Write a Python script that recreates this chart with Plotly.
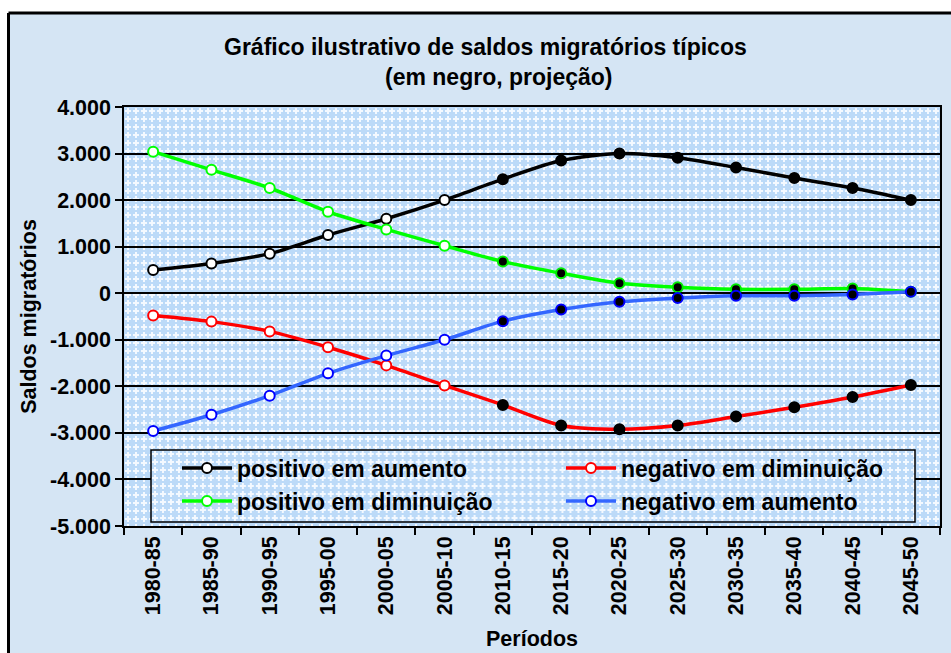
import base64
import plotly.graph_objects as go

# ---------------- data ----------------
PERIODS = ["1980-85", "1985-90", "1990-95", "1995-00", "2000-05", "2005-10", "2010-15",
           "2015-20", "2020-25", "2025-30", "2030-35", "2035-40", "2040-45", "2045-50"]
# True = projection (drawn as black-filled markers)
PROJECTION = [False] * 6 + [True] * 8

POS_AUMENTO = [500, 640, 850, 1250, 1600, 2000, 2450, 2850, 3000, 2910, 2700, 2475, 2260, 2000]
NEG_DIMINUICAO = [-480, -610, -820, -1160, -1550, -1980, -2400, -2840, -2920, -2840, -2650, -2450, -2230, -1970]
POS_DIMINUICAO = [3040, 2650, 2260, 1750, 1370, 1020, 680, 430, 215, 130, 85, 85, 100, 30]
NEG_AUMENTO = [-2960, -2610, -2200, -1720, -1340, -1000, -600, -350, -185, -105, -55, -55, -25, 30]

SERIES_NAMES = ["positivo em aumento", "negativo em diminuição",
                "positivo em diminuição", "negativo em aumento"]

Y_TICKS = [4000, 3000, 2000, 1000, 0, -1000, -2000, -3000, -4000, -5000]
Y_TICK_LABELS = ["4.000", "3.000", "2.000", "1.000", "0", "-1.000", "-2.000",
                 "-3.000", "-4.000", "-5.000"]

TITLE_LINE1 = "Gráfico ilustrativo de saldos migratórios típicos"
TITLE_LINE2 = "(em negro, projeção)"
X_TITLE = "Períodos"
Y_TITLE = "Saldos migratórios"

# ---------------- styling ----------------
FONT = "Liberation Sans, Arial, sans-serif"
W, H = 951, 653
ML, MR, MT, MB = 124, 11, 107, 127
PW, PH = W - ML - MR, H - MT - MB


def px_x(p):
    return (p - ML) / PW


def px_y(p):
    return (H - MB - p) / PH


def pattern_uri(w, h):
    svg = (f"<svg xmlns='http://www.w3.org/2000/svg' width='{w}' height='{h}'>"
           "<defs><pattern id='p' width='8' height='8' patternUnits='userSpaceOnUse'>"
           "<rect width='8' height='8' fill='#bcdaf8'/>"
           "<rect x='3' y='1' width='2' height='6' fill='#f4f9ff'/>"
           "<rect x='1' y='3' width='6' height='2' fill='#f4f9ff'/>"
           "</pattern></defs>"
           f"<rect width='{w}' height='{h}' fill='url(#p)'/></svg>")
    return "data:image/svg+xml;base64," + base64.b64encode(svg.encode()).decode()


styles = [
    dict(line="#000000", hollow_edge="#000000", fill="#000000", fill_edge="#000000"),
    dict(line="#ff0000", hollow_edge="#ff0000", fill="#000000", fill_edge="#000000"),
    dict(line="#00ff00", hollow_edge="#00ff00", fill="#000000", fill_edge="#00ee00"),
    dict(line="#3366ff", hollow_edge="#0000ff", fill="#000000", fill_edge="#0000ff"),
]
series_values = [POS_AUMENTO, NEG_DIMINUICAO, POS_DIMINUICAO, NEG_AUMENTO]
legend_ids = ["legend", "legend2", "legend3", "legend4"]

fig = go.Figure()
for name, vals, st, lg in zip(SERIES_NAMES, series_values, styles, legend_ids):
    fills = [st["fill"] if p else "#ffffff" for p in PROJECTION]
    edges = [st["fill_edge"] if p else st["hollow_edge"] for p in PROJECTION]
    fig.add_trace(go.Scatter(
        x=PERIODS, y=vals, name=name, mode="lines+markers",
        line=dict(color=st["line"], width=3.5, shape="spline", smoothing=0.8),
        marker=dict(size=10, color=fills, line=dict(color=edges, width=2)),
        legend=lg, cliponaxis=False,
    ))

leg_font = dict(family=FONT, size=23, color="black", weight="bold")
col_x = [px_x(177), px_x(561)]
row_y = [px_y(468), px_y(501)]
positions = [(col_x[0], row_y[0]), (col_x[1], row_y[0]), (col_x[0], row_y[1]), (col_x[1], row_y[1])]
legend_cfg = {}
for lg, (lx, ly) in zip(legend_ids, positions):
    legend_cfg[lg] = dict(x=lx, y=ly, xanchor="left", yanchor="middle",
                          bgcolor="rgba(0,0,0,0)", borderwidth=0, font=leg_font,
                          itemwidth=50)

tick_font = dict(family=FONT, size=21.5, color="black", weight="bold")
axis_title_font = dict(family=FONT, size=21.5, color="black", weight="bold")
title_font = dict(family=FONT, size=23, color="black", weight="bold")

fig.update_layout(
    width=W, height=H, autosize=False,
    margin=dict(l=ML, r=MR, t=MT, b=MB),
    paper_bgcolor="#d5e5f4",
    plot_bgcolor="#cde3f9",
    font=dict(family=FONT, color="black"),
    showlegend=True,
    **legend_cfg,
    xaxis=dict(
        type="category", range=[-0.5, len(PERIODS) - 0.5], automargin=False,
        tickangle=-90, tickson="boundaries", ticks="outside", ticklen=7,
        tickwidth=1.5, tickcolor="black",
        showline=True, linecolor="black", linewidth=1.5, mirror=True,
        showgrid=False, zeroline=False,
        tickfont=tick_font,
        title=dict(text=X_TITLE, font=axis_title_font, standoff=17),
    ),
    yaxis=dict(
        range=[-5000, 4000], tickvals=Y_TICKS, ticktext=Y_TICK_LABELS, automargin=False,
        ticks="outside", ticklen=7, tickwidth=1.5, tickcolor="black",
        showline=True, linecolor="black", linewidth=1.5, mirror=True,
        showgrid=True, gridcolor="black", gridwidth=1.5, zeroline=False,
        tickfont=tick_font,
        title=dict(text=Y_TITLE, font=axis_title_font, standoff=7),
    ),
    images=[
        dict(source=pattern_uri(PW, PH), xref="paper", yref="paper", x=0, y=1,
             sizex=1, sizey=1, xanchor="left", yanchor="top", sizing="stretch", layer="below"),
        dict(source=pattern_uri(765, 72), xref="paper", yref="paper",
             x=px_x(151), y=px_y(450), sizex=px_x(915) - px_x(151), sizey=px_y(450) - px_y(522),
             xanchor="left", yanchor="top", sizing="stretch", layer="above"),
    ],
    shapes=[
        # white outside of the chart frame
        dict(type="rect", xref="paper", yref="paper", x0=px_x(-20), x1=px_x(980),
             y0=px_y(13), y1=px_y(-20), fillcolor="white", line_width=0, layer="below"),
        dict(type="rect", xref="paper", yref="paper", x0=px_x(-20), x1=px_x(8.5),
             y0=px_y(680), y1=px_y(-20), fillcolor="white", line_width=0, layer="below"),
        # chart frame lines
        dict(type="line", xref="paper", yref="paper", x0=px_x(8.5), x1=px_x(980),
             y0=px_y(13), y1=px_y(13), line=dict(color="black", width=3), layer="below"),
        dict(type="line", xref="paper", yref="paper", x0=px_x(8.5), x1=px_x(8.5),
             y0=px_y(13), y1=px_y(680), line=dict(color="black", width=3), layer="below"),
        # legend box
        dict(type="rect", xref="paper", yref="paper", x0=px_x(151), x1=px_x(915),
             y0=px_y(522), y1=px_y(450), line=dict(color="black", width=1.5), layer="above"),
    ],
    annotations=[
        dict(text=TITLE_LINE1, xref="paper", yref="paper", x=px_x(485), y=px_y(47),
             xanchor="center", yanchor="middle", showarrow=False, font=title_font),
        dict(text=TITLE_LINE2, xref="paper", yref="paper", x=px_x(498), y=px_y(77),
             xanchor="center", yanchor="middle", showarrow=False, font=title_font),
    ],
)

fig.write_html("out.html", config={"displayModeBar": False},
               post_script="document.body.style.margin='0';")
